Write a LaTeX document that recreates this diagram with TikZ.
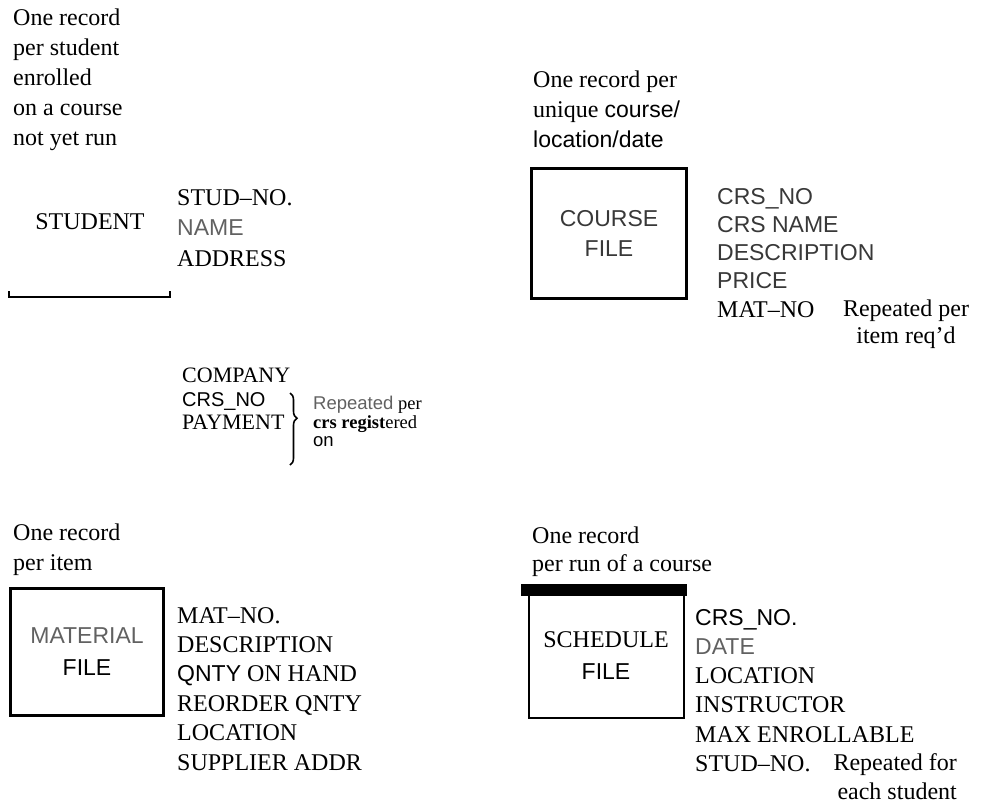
\documentclass[tikz,border=0pt]{standalone}
\usepackage{fontspec}
\setmainfont{Liberation Serif}
\setsansfont{Liberation Sans}
\usetikzlibrary{decorations.pathreplacing}
\definecolor{faded}{gray}{0.38}
\definecolor{dim}{gray}{0.22}
\tikzset{
  block/.style={anchor=north west, inner sep=0pt, align=left,
    font=\fontsize{24}{30}\selectfont},
  title/.style={inner sep=0pt, align=center, font=\fontsize{24}{30}\selectfont},
  filebox/.style={draw, line width=3pt, inner sep=0pt},
}
\begin{document}
\begin{tikzpicture}[x=1pt,y=-1pt]
\useasboundingbox (0,0) rectangle (990,804);

% student record
\node (stunote) [block] at (13,9) {One record\\per student\\enrolled\\on a course\\not yet run};
\node (stu) [title] at (90,222) {STUDENT};
\coordinate (stuL) at (9,291);
\coordinate (stuR) at (170,291);
\draw [line width=2.5pt] (stuL) -- ++(0,6) -| (stuR);
\node (stufld) [block, font=\fontsize{24}{30.5}\selectfont] at (177,189)
  {STUD–NO.\\{\sffamily\fontsize{23}{30.5}\selectfont\color{faded}NAME}\\ADDRESS};

\node (comp) [anchor=base west, inner sep=0pt, font=\fontsize{22}{24}\selectfont] at (182,382) {COMPANY};
\node (crs) [anchor=base west, inner sep=0pt, font=\sffamily\fontsize{20}{24}\selectfont] at (182,406) {CRS\_NO};
\node (pay) [anchor=base west, inner sep=0pt, font=\fontsize{22}{24}\selectfont] at (182,429) {PAYMENT};
\coordinate (brT) at (290,393);
\coordinate (brB) at (290,465);
\draw [line width=1.6pt, decoration={brace, amplitude=7pt, aspect=0.35}, decorate] (brT) -- (brB);
\node (payrep) [block, font=\fontsize{18.5}{18.5}\selectfont] at (313,396)
  {{\sffamily\color{faded}Repeated} per\\\textbf{crs regist}ered\\{\sffamily on}};

% course file
\node (crsnote) [block] at (533,71)
  {One record per\\unique {\sffamily\fontsize{23}{30}\selectfont course/}\\{\sffamily\fontsize{23}{30}\selectfont location/date}};
\node (crsbox) [filebox, minimum width=155pt, minimum height=130pt, align=center,
  font=\sffamily\fontsize{23}{30}\selectfont, text=dim] at (609,233.5) {COURSE\\FILE};
\node (crsfld) [block, font=\fontsize{24}{28.2}\selectfont] at (717,188)
  {{\sffamily\fontsize{23}{28.2}\selectfont\color{dim}CRS\_NO}\\
   {\sffamily\fontsize{23}{28.2}\selectfont\color{dim}CRS NAME}\\
   {\sffamily\fontsize{23}{28.2}\selectfont\color{dim}DESCRIPTION}\\
   {\sffamily\fontsize{23}{28.2}\selectfont\color{dim}PRICE}\\
   MAT–NO};
\node (crsrep) [title, anchor=north, font=\fontsize{24}{27}\selectfont] at (906,300) {Repeated per\\item req'd};

% material file
\node (matnote) [block] at (13,524) {One record\\per item};
\node (matbox) [filebox, minimum width=153pt, minimum height=127pt, align=center,
  font=\sffamily\fontsize{23}{32}\selectfont] at (87,652) {\textcolor{faded}{MATERIAL}\\FILE};
\node (matfld) [block, font=\fontsize{24}{29.4}\selectfont] at (177,607)
  {MAT–NO.\\DESCRIPTION\\{\sffamily\fontsize{23}{29.4}\selectfont QNTY} ON HAND\\REORDER QNTY\\LOCATION\\SUPPLIER ADDR};

% schedule file
\node (schnote) [block, font=\fontsize{24}{28}\selectfont] at (532,527) {One record\\per run of a course};
\coordinate (schTL) at (529,596);
\coordinate (schBR) at (684,718);
\draw [line width=2.5pt] (schTL) |- (schBR) -- (schBR |- schTL);
\fill (521,584) rectangle (687,596);
\node (sch) [title, font=\fontsize{24}{32}\selectfont] at (606,656)
  {SCHEDULE\\{\sffamily\fontsize{23}{32}\selectfont FILE}};
\node (schfld) [block, font=\fontsize{24}{29.2}\selectfont] at (695,609)
  {{\sffamily\fontsize{23}{29.2}\selectfont CRS\_NO.}\\
   {\sffamily\fontsize{23}{29.2}\selectfont\color{faded}DATE}\\
   LOCATION\\INSTRUCTOR\\MAX ENROLLABLE\\STUD–NO.};
\node (schrep) [anchor=north east, inner sep=0pt, align=right, font=\fontsize{24}{29}\selectfont] at (957,753)
  {Repeated for\\each student};
\end{tikzpicture}
\end{document}
